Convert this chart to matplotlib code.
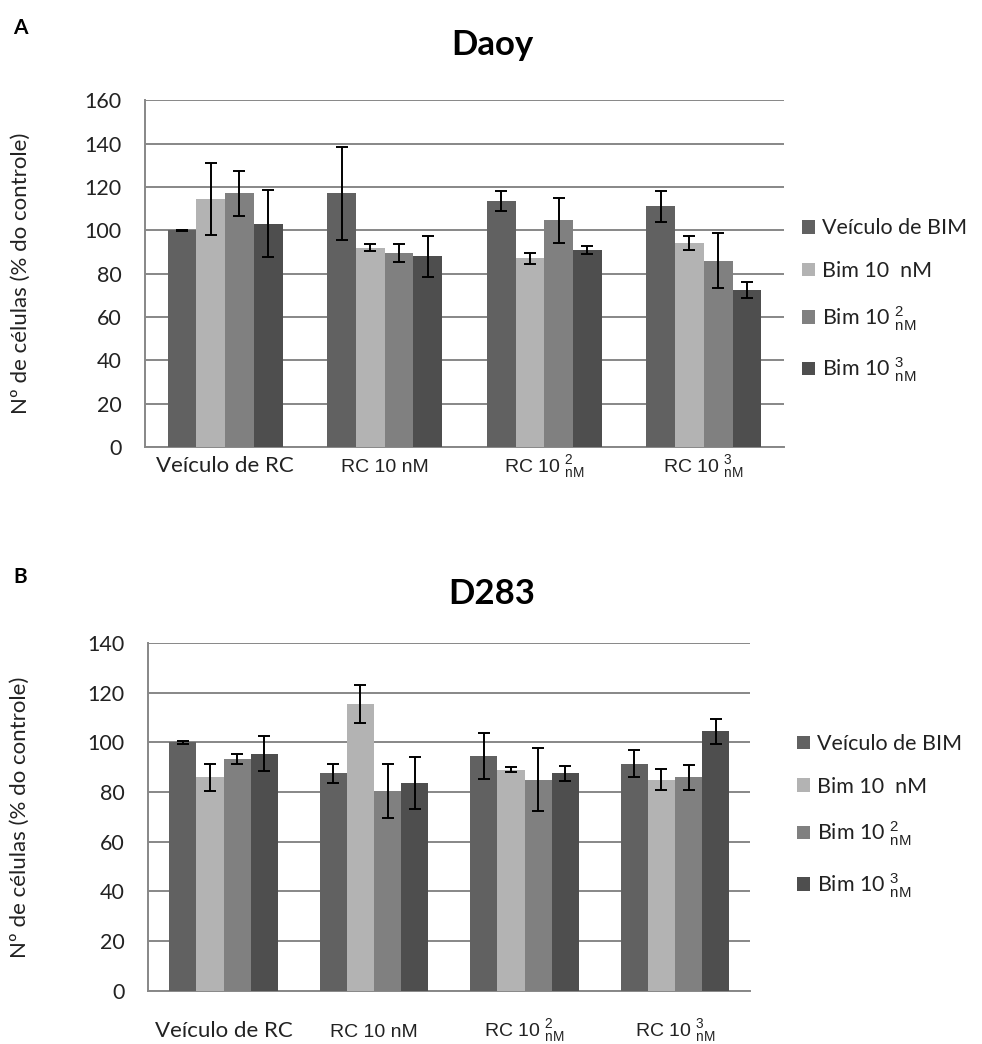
import numpy as np
import matplotlib.pyplot as plt
import matplotlib as mpl
from matplotlib import font_manager

mpl.rcParams['font.family'] = ['Lato', 'DejaVu Sans']
narrow = 'Liberation Sans Narrow'
if not any(f.name == narrow for f in font_manager.fontManager.ttflist):
    narrow = 'Liberation Sans'
mpl.rcParams['mathtext.fontset'] = 'custom'
mpl.rcParams['mathtext.rm'] = narrow
mpl.rcParams['mathtext.it'] = narrow

# dados
grupos = ['Veículo de RC', 'RC 10 nM', 'RC 10 $^{2}_{\\rm nM}$', 'RC 10 $^{3}_{\\rm nM}$']
series = ['Veículo de BIM', 'Bim 10  nM', 'Bim 10 $^{2}_{\\rm nM}$', 'Bim 10 $^{3}_{\\rm nM}$']

daoy_val = [[100, 117, 113.5, 111],
            [114.5, 92, 87, 94],
            [117, 89.5, 104.5, 86],
            [103, 88, 91, 72.5]]
daoy_err = [[0.3, 21.5, 4.5, 7],
            [16.5, 1.5, 2.5, 3.2],
            [10.5, 4, 10.5, 12.5],
            [15.5, 9.5, 1.8, 3.6]]

d283_val = [[100, 87.5, 94.5, 91.5],
            [86, 115.5, 89, 85],
            [93.5, 80.5, 85, 86],
            [95.5, 83.5, 87.5, 104.5]]
d283_err = [[0.5, 3.8, 9.4, 5.4],
            [5.5, 7.7, 1, 4.2],
            [2, 11, 12.8, 5],
            [7, 10.5, 3.2, 5.1]]

cores = ['#616161', '#b3b3b3', '#808080', '#4e4e4e']

fig = plt.figure(figsize=(9.82, 10.44), dpi=100)


def painel(rect, vals, errs, ymax, ly, leg_xy, lab_pad):
    ax = fig.add_axes(rect)
    x = np.arange(len(grupos))
    w = 0.18
    for i in range(4):
        ax.bar(x + (i - 1.5) * w, vals[i], w, color=cores[i], label=series[i],
               yerr=errs[i], capsize=4.5,
               error_kw=dict(ecolor='black', elinewidth=1.4, capthick=1.4),
               zorder=3)
    ax.set_xlim(-0.5, 3.5)
    ax.set_ylim(0, ymax)
    ax.set_yticks(np.arange(0, ymax + 1, 20))
    ax.yaxis.grid(True, color='#878787', linewidth=1.4, zorder=0)
    ax.set_axisbelow(True)
    for s in ['top', 'right']:
        ax.spines[s].set_visible(False)
    for s in ['left', 'bottom']:
        ax.spines[s].set_color('#878787')
        ax.spines[s].set_linewidth(1.4)
    ax.tick_params(axis='y', length=0, pad=17, labelsize=15.5, labelcolor='#222222')
    ax.tick_params(axis='x', length=0, pad=lab_pad, labelcolor='#222222')
    ax.set_xticks(x)
    ax.set_xticklabels(grupos)
    for k, t in enumerate(ax.get_xticklabels()):
        t.set_va('baseline')
        if k == 0:
            t.set_fontsize(16)
        else:
            t.set_fontsize(14)
            t.set_family([narrow, 'DejaVu Sans'])
    ax.set_ylabel('Nº de células (% do controle)', fontsize=16, color='#222222')
    ax.yaxis.set_label_coords(ly, 0.5)
    leg = ax.legend(loc='center left', bbox_to_anchor=leg_xy, frameon=False,
                    fontsize=15.5, handlelength=0.6, handleheight=0.6,
                    handletextpad=0.35, labelspacing=1.05)
    for t in leg.get_texts():
        t.set_color('#222222')
    return ax


ax1 = painel([0.148, 0.572, 0.650, 0.332], daoy_val, daoy_err, 160, -0.18, (0.998, 0.42), 18)
ax2 = painel([0.151, 0.051, 0.613, 0.333], d283_val, d283_err, 140, -0.196, (1.045, 0.5), 33)

fig.text(492 / 982, 1 - 45 / 1044, 'Daoy', fontsize=25, fontweight='bold', ha='center', va='center')
fig.text(492 / 982, 1 - 594 / 1044, 'D283', fontsize=25, fontweight='bold', ha='center', va='center')
fig.text(20 / 982, 1 - 28 / 1044, 'A', fontsize=15, fontweight='bold', ha='center', va='center')
fig.text(20 / 982, 1 - 577 / 1044, 'B', fontsize=15, fontweight='bold', ha='center', va='center')

fig.savefig('out.png', dpi=100)
